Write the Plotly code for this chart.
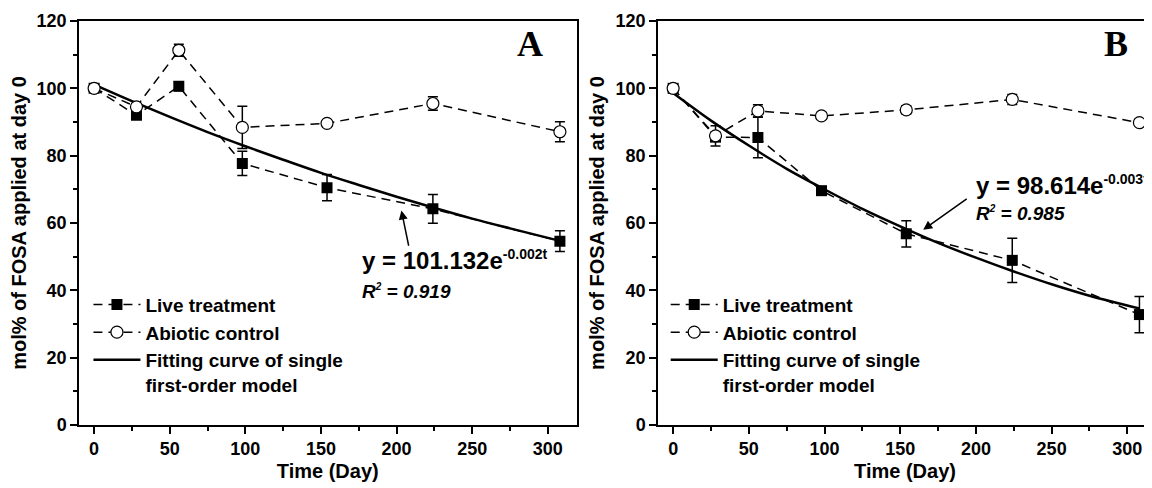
import plotly.graph_objects as go

# sampling days
days = [0, 28, 56, 98, 154, 224, 308]

# Panel A
live_a = [100, 92.0, 100.6, 77.7, 70.5, 64.2, 54.6]
live_a_err = [0.5, 1.0, 1.3, 3.6, 3.9, 4.3, 3.1]
abiotic_a = [100, 94.5, 111.3, 88.4, 89.6, 95.5, 87.1]
abiotic_a_err = [0.5, 1.0, 1.8, 6.3, 1.0, 2.0, 3.0]

# Panel B
live_b = [100, 85.5, 85.4, 69.6, 56.8, 48.9, 32.8]
live_b_err = [0.5, 1.0, 6.0, 1.0, 3.9, 6.6, 5.4]
abiotic_b = [100, 85.9, 93.3, 91.8, 93.6, 96.7, 89.8]
abiotic_b_err = [0.5, 3.0, 1.8, 1.0, 1.2, 1.5, 1.0]

# fitted first-order curves
fit_days = [0, 25, 50, 75, 100, 125, 150, 175, 200, 225, 250, 275, 308]
fit_a = [101.1, 96.2, 91.5, 87.0, 82.8, 78.8, 74.9, 71.3, 67.8, 64.5, 61.3, 58.4, 54.7]
fit_b = [98.6, 90.4, 83.0, 76.1, 70.0, 64.2, 59.0, 54.1, 49.7, 45.6, 41.8, 38.4, 34.6]

FONT = "Liberation Sans, Arial, sans-serif"
dash = "9px,6px"

fig = go.Figure()


def add_panel(xa, ya, leg, live, live_err, abio, abio_err, fit):
    fig.add_trace(go.Scatter(
        x=fit_days, y=fit, mode="lines", line=dict(color="black", width=2.5, shape="spline"),
        name="Fitting curve of single<br>first-order model", legend=leg, legendrank=3,
        xaxis=xa, yaxis=ya, hoverinfo="skip"))
    fig.add_trace(go.Scatter(
        x=days, y=live, mode="lines+markers",
        line=dict(color="black", width=1.5, dash=dash),
        marker=dict(symbol="square", size=11, color="black"),
        error_y=dict(type="data", array=live_err, color="black", thickness=1.5, width=5),
        name="Live treatment", legend=leg, legendrank=1, xaxis=xa, yaxis=ya))
    fig.add_trace(go.Scatter(
        x=days, y=abio, mode="lines+markers",
        line=dict(color="black", width=1.5, dash=dash),
        marker=dict(symbol="circle", size=12, color="white", line=dict(color="black", width=1.2)),
        error_y=dict(type="data", array=abio_err, color="black", thickness=1.5, width=5),
        name="Abiotic control", legend=leg, legendrank=2, xaxis=xa, yaxis=ya))


add_panel("x", "y", "legend", live_a, live_a_err, abiotic_a, abiotic_a_err, fit_a)
add_panel("x2", "y2", "legend2", live_b, live_b_err, abiotic_b, abiotic_b_err, fit_b)

tickfont = dict(family=FONT, size=18, color="black", weight="bold")
titlefont = dict(family=FONT, size=20, color="black", weight="bold")


def xaxis(domain, rng, anchor):
    return dict(domain=domain, range=rng, anchor=anchor, tick0=0, dtick=50,
                ticks="outside", ticklen=7, tickwidth=1.5, tickcolor="black",
                minor=dict(dtick=25, ticks="outside", ticklen=4, tickwidth=1.5, tickcolor="black"),
                showline=True, linecolor="black", linewidth=1.5, mirror=True,
                showgrid=False, zeroline=False, tickfont=tickfont,
                title=dict(text="Time (Day)", font=titlefont, standoff=6))


def yaxis(anchor):
    return dict(domain=[0, 1], range=[0, 120], anchor=anchor, tick0=0, dtick=20,
                ticks="outside", ticklen=7, tickwidth=1.5, tickcolor="black",
                minor=dict(dtick=10, ticks="outside", ticklen=4, tickwidth=1.5, tickcolor="black"),
                showline=True, linecolor="black", linewidth=1.5, mirror=True,
                showgrid=False, zeroline=False, tickfont=tickfont,
                title=dict(text="mol% of FOSA applied at day 0", font=titlefont, standoff=6))


legfont = dict(family=FONT, size=19, color="black", weight="bold")


def legend(xpos):
    return dict(x=xpos, y=0.345, xanchor="left", yanchor="top", bgcolor="rgba(0,0,0,0)",
                font=legfont, itemwidth=47, valign="top", tracegroupgap=0,
                traceorder="normal")


eq_font = dict(family=FONT, size=24, color="black", weight="bold")
r2_font = dict(family=FONT, size=19, color="black", weight="bold", style="italic")
letter_font = dict(family="Liberation Serif, Times New Roman, serif", size=36,
                   color="black", weight="bold")

annotations = [
    dict(xref="x", yref="y", x=176, y=49, xanchor="left", yanchor="middle", showarrow=False,
         text="y = 101.132e<sup><span style='font-size:14px'>-0.002t</span></sup>", font=eq_font),
    dict(xref="x", yref="y", x=176, y=39.8, xanchor="left", yanchor="middle", showarrow=False,
         text="R<sup><span style='font-size:10px'>2</span></sup> = 0.919", font=r2_font),
    dict(xref="x", yref="y", x=203.2, y=63.7, ax=208.2, ay=52.8, axref="x", ayref="y",
         showarrow=True, arrowhead=2, arrowsize=1.2, arrowwidth=1.5, arrowcolor="black", text=""),
    dict(xref="x", yref="y", x=288, y=113.3, showarrow=False, text="A", font=letter_font),
    dict(xref="x2", yref="y2", x=199, y=71.4, xanchor="left", yanchor="middle", showarrow=False,
         text="y = 98.614e<sup><span style='font-size:14px'>-0.003t</span></sup>", font=eq_font),
    dict(xref="x2", yref="y2", x=199, y=62.8, xanchor="left", yanchor="middle", showarrow=False,
         text="R<sup><span style='font-size:10px'>2</span></sup> = 0.985", font=r2_font),
    dict(xref="x2", yref="y2", x=165.2, y=58.0, ax=194.9, ay=67.5, axref="x2", ayref="y2",
         showarrow=True, arrowhead=2, arrowsize=1.2, arrowwidth=1.5, arrowcolor="black", text=""),
    dict(xref="x2", yref="y2", x=292.5, y=113.3, showarrow=False, text="B", font=letter_font),
]

# page body adds an 8px offset, so the figure is drawn 8px smaller
fig.update_layout(
    width=1144, height=480,
    margin=dict(l=71, r=0, t=13, b=63, autoexpand=False),
    paper_bgcolor="white", plot_bgcolor="white",
    font=dict(family=FONT, color="black"),
    xaxis=xaxis([0, 0.4637], [-10, 319], "y"),
    yaxis=yaxis("x"),
    xaxis2=xaxis([0.5396, 1], [-10, 316.3], "y2"),
    yaxis2=yaxis("x2"),
    legend=legend(0.0088),
    legend2=legend(0.5468),
    annotations=annotations,
    showlegend=True,
)

fig.write_html("out.html")
